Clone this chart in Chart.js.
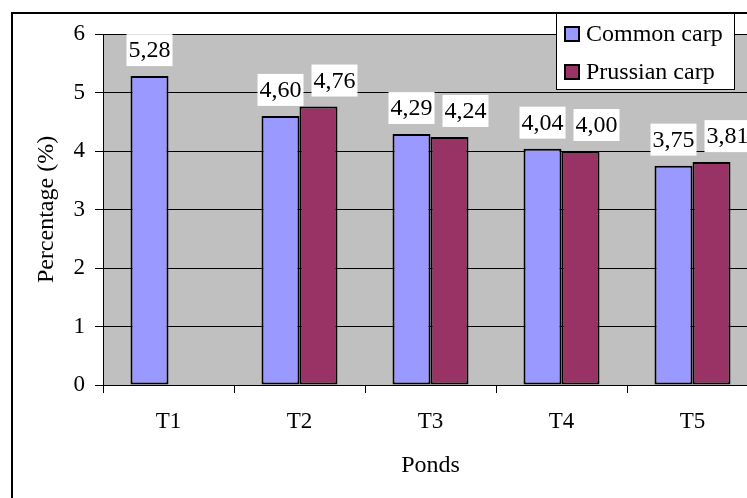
<!DOCTYPE html>
<html>
<head>
<meta charset="utf-8">
<script src="https://cdn.jsdelivr.net/npm/chart.js@4/dist/chart.umd.min.js"></script>
<style>
    html, body { margin: 0; padding: 0; background: #fff; }
    #wrap { position: relative; width: 747px; height: 498px; overflow: hidden; }
    #carpChart { position: absolute; left: 0; top: 0; }
</style>
</head>
<body>
<div id="wrap">
    <canvas id="carpChart" width="800" height="520"></canvas>
</div>
<script>
    // data
    const ponds = ['T1', 'T2', 'T3', 'T4', 'T5'];
    const commonCarp = [5.28, 4.60, 4.29, 4.04, 3.75];
    const prussianCarp = [null, 4.76, 4.24, 4.00, 3.81];
    const seriesNames = ['Common carp', 'Prussian carp'];
    const yMin = 0, yMax = 6, yStep = 1;

    const serif = 'Liberation Serif, Times New Roman, serif';

    // grey plot area
    const plotBg = {
        id: 'plotBg',
        beforeDraw(chart) {
            const { ctx, chartArea: a } = chart;
            ctx.save();
            ctx.fillStyle = '#C0C0C0';
            ctx.fillRect(a.left, a.top, a.right - a.left, a.bottom - a.top);
            ctx.restore();
        }
    };

    // value boxes above the bars
    const valueLabels = {
        id: 'valueLabels',
        afterDatasetsDraw(chart) {
            const ctx = chart.ctx;
            ctx.save();
            ctx.font = '24px ' + serif;
            ctx.textAlign = 'center';
            ctx.textBaseline = 'middle';
            chart.data.datasets.forEach((ds, i) => {
                chart.getDatasetMeta(i).data.forEach((bar, j) => {
                    const v = ds.data[j];
                    if (v === null) return;
                    const txt = v.toFixed(2).replace('.', ',');
                    const w = ctx.measureText(txt).width + 4;
                    const h = 32;
                    const cx = bar.x + (i === 1 ? 16 : 0);
                    const bottom = bar.y - 10;
                    ctx.fillStyle = '#fff';
                    ctx.fillRect(cx - w / 2, bottom - h, w, h);
                    ctx.fillStyle = '#000';
                    ctx.fillText(txt, cx, bottom - h / 2 + 1);
                });
            });
            ctx.restore();
        }
    };

    // outer frame + boxed legend
    const frameLegend = {
        id: 'frameLegend',
        afterDraw(chart) {
            const ctx = chart.ctx;
            ctx.save();
            ctx.strokeStyle = '#000';
            ctx.lineWidth = 2;
            ctx.strokeRect(12, 13, 1000, 1000);

            const bx = 556, by = 13, bw = 178, bh = 76;
            ctx.fillStyle = '#fff';
            ctx.fillRect(bx, by, bw, bh);
            ctx.lineWidth = 1;
            ctx.strokeRect(bx + 0.5, by + 0.5, bw, bh);

            ctx.font = '24px ' + serif;
            ctx.textBaseline = 'middle';
            ctx.textAlign = 'left';
            chart.data.datasets.forEach((ds, i) => {
                const cy = 34 + i * 38;
                ctx.fillStyle = ds.backgroundColor;
                ctx.fillRect(565, cy - 7, 14, 14);
                ctx.lineWidth = 2;
                ctx.strokeStyle = '#000';
                ctx.strokeRect(565, cy - 7, 14, 14);
                ctx.fillStyle = '#000';
                ctx.fillText(ds.label, 586, cy + 1);
            });
            ctx.restore();
        }
    };

    new Chart(document.getElementById('carpChart'), {
        type: 'bar',
        data: {
            labels: ponds,
            datasets: [
                {
                    label: seriesNames[0],
                    data: commonCarp,
                    backgroundColor: '#9999FF',
                    borderColor: '#000',
                    borderWidth: 2,
                    borderSkipped: false
                },
                {
                    label: seriesNames[1],
                    data: prussianCarp,
                    backgroundColor: '#993366',
                    borderColor: '#000',
                    borderWidth: 2,
                    borderSkipped: false
                }
            ]
        },
        options: {
            responsive: false,
            animation: false,
            devicePixelRatio: 1,
            barPercentage: 1,
            categoryPercentage: 0.58,
            layout: { padding: { top: 34, right: 42, left: 0, bottom: 0 } },
            plugins: {
                legend: { display: false },
                tooltip: { enabled: false }
            },
            scales: {
                x: {
                    grid: { drawOnChartArea: false, offset: true, tickLength: 8, color: '#000' },
                    border: { color: '#000', width: 1 },
                    ticks: { color: '#000', font: { family: serif, size: 23 }, padding: 15 },
                    title: {
                        display: true, text: 'Ponds', color: '#000',
                        font: { family: serif, size: 24 }, padding: { top: 0, bottom: 40 }
                    },
                    afterFit(scale) { scale.height = 135; }
                },
                y: {
                    min: yMin,
                    max: yMax,
                    ticks: { stepSize: yStep, color: '#000', font: { family: serif, size: 23 }, padding: 10 },
                    grid: { color: '#000', lineWidth: 1, tickLength: 8 },
                    border: { color: '#000', width: 1 },
                    title: {
                        display: true, text: 'Percentage (%)', color: '#000',
                        font: { family: serif, size: 24 }, padding: { top: 32, bottom: 0 }
                    },
                    afterFit(scale) { scale.width = 103; }
                }
            }
        },
        plugins: [plotBg, valueLabels, frameLegend]
    });
</script>
</body>
</html>
